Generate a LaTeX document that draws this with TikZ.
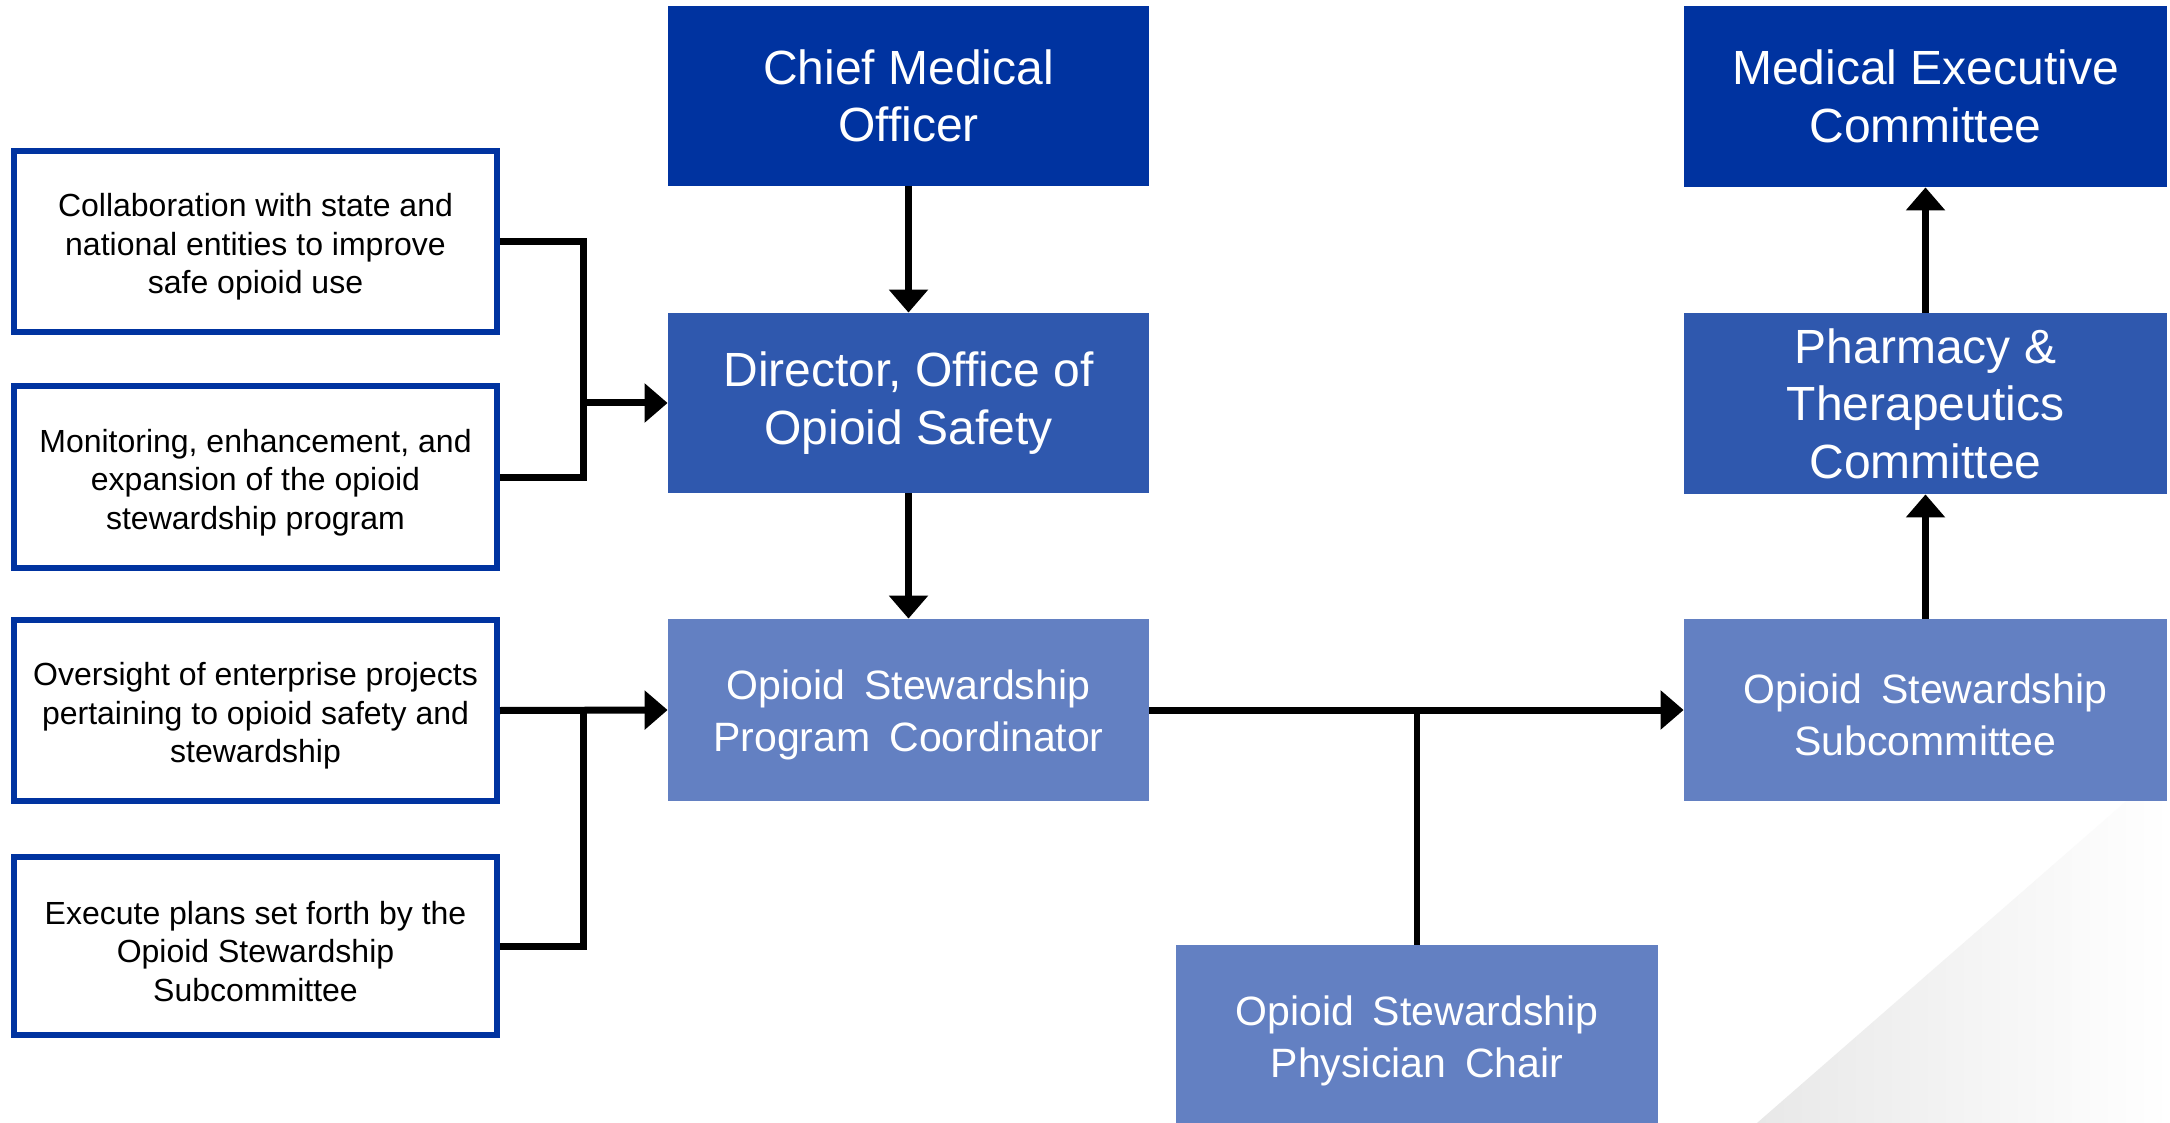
\documentclass[tikz,border=0pt]{standalone}
\usepackage{fontspec}
\setmainfont{Liberation Sans}
\usetikzlibrary{arrows.meta}
\definecolor{navy}{RGB}{0,51,160}
\definecolor{midblue}{RGB}{47,88,174}
\definecolor{lightblue}{RGB}{99,128,194}
\newcommand{\wsp}{\hspace{9.5pt}}
\newcommand{\tstr}{\rule{0pt}{17pt}}
\newcommand{\mstr}{\rule{0pt}{19.5pt}}
\tikzset{
  bigtxt/.style={font=\fontsize{24pt}{28.75pt}\selectfont, text=white, align=center, inner sep=0pt},
  medtxt/.style={font=\fontsize{20.5pt}{26pt}\selectfont, text=white, align=center, inner sep=0pt},
  colbox/.style={minimum width=240.5pt, minimum height=90pt},
  darkbox/.style={colbox, fill=navy, bigtxt},
  midbox/.style={colbox, fill=midblue, bigtxt},
  litebox/.style={colbox, fill=lightblue, medtxt},
  taskbox/.style={draw=navy, line width=3pt, fill=white, minimum width=241.5pt,
    font=\fontsize{16pt}{19.2pt}\selectfont, text=black, align=center, inner sep=0pt},
  conn/.style={line width=3.5pt, draw=black},
  thinconn/.style={line width=3pt, draw=black},
  arrowconn/.style={conn, -{Triangle[length=11.5pt, width=19pt]}},
}
\begin{document}
\begin{tikzpicture}[x=0.5pt, y=-0.5pt]
\useasboundingbox (0,0) rectangle (2170,1123);
\fill[white] (0,0) rectangle (2170,1123);
% background decoration
\shade[left color=black!9, right color=white] (1757,1123) -- (2170,763) -- (2170,1123) -- cycle;

% task boxes (left)
\node[taskbox, minimum height=90.5pt] (lb1) at (255.5,241.5) {\tstr Collaboration with state and\\national entities to improve\\safe opioid use};
\node[taskbox, minimum height=91pt] (lb2) at (255.5,477) {\tstr Monitoring, enhancement, and\\expansion of the opioid\\stewardship program};
\node[taskbox, minimum height=90.5pt] (lb3) at (255.5,710.5) {\tstr Oversight of enterprise projects\\pertaining to opioid safety and\\stewardship};
\node[taskbox, minimum height=89pt] (lb4) at (255.5,946) {\tstr Execute plans set forth by the\\Opioid Stewardship\\Subcommittee};

% center column
\node[darkbox] (cmo) at (908.5,96) {Chief Medical\\Officer};
\node[midbox] (dir) at (908.5,403) {Director, Office of\\Opioid Safety};
\node[litebox, minimum height=91pt] (coord) at (908.5,710) {\mstr Opioid\wsp Stewardship\\Program\wsp Coordinator};

% right column
\node[darkbox, minimum width=241.5pt, minimum height=90.5pt] (mec) at (1925.5,96.5) {Medical Executive\\Committee};
\node[midbox, minimum width=241.5pt, minimum height=90.5pt] (pt) at (1925.5,403.5) {Pharmacy \&\\Therapeutics\\Committee};
\node[litebox, minimum width=241.5pt, minimum height=91pt] (sub) at (1925.5,710) {\mstr Opioid\wsp Stewardship\\Subcommittee};

% physician chair
\node[litebox, minimum width=241pt, minimum height=91pt] (chair) at (1417,1036) {\mstr Opioid\wsp Stewardship\\Physician\wsp Chair};

% junctions
\coordinate (j1) at (583,403);
\coordinate (j2) at (583,710.5);
\coordinate (j3) at (1417,710);

% connectors
\draw[arrowconn] (cmo.south) -- (dir.north);
\draw[arrowconn] (dir.south) -- (coord.north);
\draw[conn, line join=miter] (lb1.east) -| (j1) |- (lb2.east);
\draw[arrowconn] (j1) -- (dir.west);
\draw[arrowconn] (lb3.east) -- (coord.west);
\draw[conn, line join=miter] (lb4.east) -| (j2);
\draw[arrowconn] (coord.east) -- (sub.west);
\draw[thinconn] (j3) -- (chair.north);
\draw[arrowconn] (sub.north) -- (pt.south);
\draw[arrowconn] (pt.north) -- (mec.south);
\end{tikzpicture}
\end{document}
